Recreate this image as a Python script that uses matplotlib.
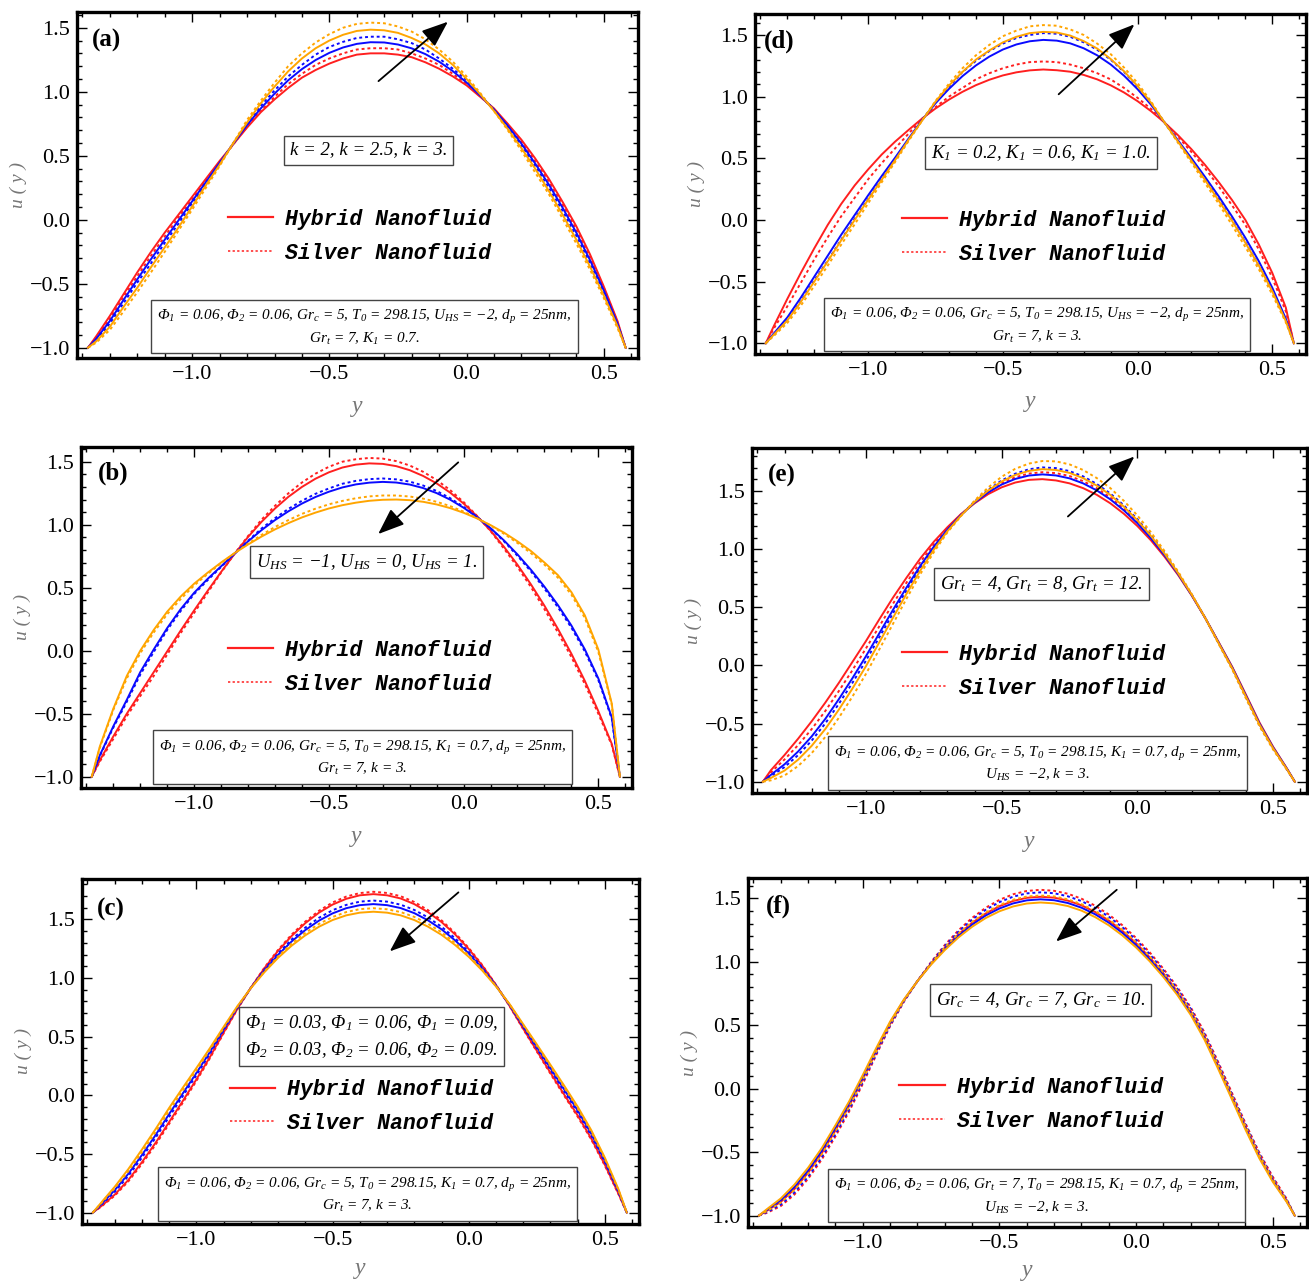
import matplotlib
matplotlib.use('Agg')
import matplotlib.pyplot as plt
from matplotlib.lines import Line2D
from matplotlib.ticker import MultipleLocator, FuncFormatter

plt.rcParams['font.family'] = ['Liberation Serif', 'DejaVu Serif']
plt.rcParams['mathtext.fontset'] = 'custom'
plt.rcParams['mathtext.rm'] = 'Liberation Serif:italic'
plt.rcParams['mathtext.it'] = 'Liberation Serif:italic'
plt.rcParams['mathtext.bf'] = 'Liberation Serif:bold'

# ---------------- data ----------------
y_pts = [-1.38, -1.35, -1.30, -1.25, -1.20, -1.15, -1.10, -1.05, -1.00, -0.95, -0.90,
         -0.85, -0.80, -0.75, -0.70, -0.65, -0.60, -0.55, -0.50, -0.45, -0.40,
         -0.35, -0.30, -0.25, -0.20, -0.15, -0.10, -0.05, 0.00, 0.05, 0.10,
         0.15, 0.20, 0.25, 0.30, 0.35, 0.40, 0.45, 0.50, 0.55, 0.58]

# (a) k = 2 (red), 2.5 (blue), 3 (orange)
a_red_hyb = [-1.00, -0.91, -0.75, -0.58, -0.41, -0.25, -0.10, 0.04, 0.18, 0.32, 0.46, 0.59, 0.72, 0.84, 0.94, 1.03, 1.11, 1.17, 1.22, 1.26, 1.29,
             1.30, 1.30, 1.29, 1.27, 1.23, 1.18, 1.12, 1.05, 0.96, 0.87, 0.75, 0.625, 0.48, 0.32, 0.14, -0.05, -0.27, -0.52, -0.79, -1.00]
a_red_sil = [-1.00, -0.92, -0.77, -0.60, -0.44, -0.28, -0.13, 0.02, 0.16, 0.31, 0.45, 0.59, 0.73, 0.85, 0.96, 1.06, 1.14, 1.21, 1.26, 1.30, 1.33,
             1.34, 1.34, 1.33, 1.30, 1.26, 1.21, 1.14, 1.06, 0.965, 0.86, 0.745, 0.61, 0.46, 0.30, 0.12, -0.075, -0.29, -0.53, -0.80, -1.00]
a_blu_hyb = [-1.00, -0.93, -0.79, -0.625, -0.465, -0.307, -0.155, -0.005, 0.145, 0.295, 0.445, 0.595, 0.74, 0.87, 0.985, 1.09, 1.177, 1.248, 1.304, 1.346, 1.374,
             1.387, 1.385, 1.369, 1.339, 1.294, 1.235, 1.161, 1.072, 0.97, 0.86, 0.735, 0.595, 0.44, 0.275, 0.095, -0.10, -0.315, -0.55, -0.81, -1.00]
a_blu_sil = [-1.00, -0.94, -0.81, -0.65, -0.49, -0.34, -0.18, -0.03, 0.13, 0.28, 0.44, 0.60, 0.75, 0.89, 1.01, 1.12, 1.21, 1.29, 1.35, 1.39, 1.42,
             1.43, 1.43, 1.41, 1.38, 1.33, 1.26, 1.18, 1.09, 0.975, 0.86, 0.725, 0.58, 0.42, 0.25, 0.07, -0.125, -0.34, -0.57, -0.82, -1.00]
a_org_hyb = [-1.00, -0.95, -0.835, -0.68, -0.53, -0.37, -0.215, -0.06, 0.105, 0.27, 0.43, 0.60, 0.76, 0.91, 1.04, 1.16, 1.26, 1.34, 1.40, 1.445, 1.475,
             1.485, 1.48, 1.46, 1.42, 1.37, 1.30, 1.21, 1.10, 0.98, 0.85, 0.71, 0.56, 0.40, 0.225, 0.04, -0.155, -0.365, -0.59, -0.83, -1.00]
a_org_sil = [-1.00, -0.96, -0.86, -0.715, -0.565, -0.41, -0.25, -0.085, 0.08, 0.25, 0.42, 0.60, 0.78, 0.93, 1.07, 1.20, 1.30, 1.385, 1.45, 1.50, 1.53,
             1.54, 1.535, 1.51, 1.47, 1.41, 1.33, 1.235, 1.12, 0.99, 0.85, 0.70, 0.54, 0.37, 0.20, 0.01, -0.185, -0.39, -0.61, -0.845, -1.00]

# (d) K1 = 0.2, 0.6, 1.0
d_red_hyb = [-1.00, -0.86, -0.64, -0.43, -0.23, -0.04, 0.13, 0.28, 0.41, 0.53, 0.635, 0.73, 0.822, 0.904, 0.976, 1.039, 1.093, 1.137, 1.172, 1.197, 1.213,
             1.22, 1.214, 1.202, 1.176, 1.14, 1.092, 1.033, 0.963, 0.882, 0.79, 0.687, 0.573, 0.447, 0.31, 0.163, 0.00, -0.20, -0.43, -0.71, -1.00]
d_red_sil = [-1.00, -0.88, -0.70, -0.51, -0.32, -0.14, 0.03, 0.18, 0.33, 0.46, 0.58, 0.70, 0.82, 0.915, 1.00, 1.07, 1.14, 1.19, 1.23, 1.26, 1.28,
             1.285, 1.28, 1.26, 1.23, 1.19, 1.14, 1.07, 0.99, 0.90, 0.79, 0.675, 0.55, 0.42, 0.275, 0.12, -0.04, -0.24, -0.47, -0.74, -1.00]
d_blu_hyb = [-1.00, -0.92, -0.79, -0.63, -0.46, -0.29, -0.12, 0.04, 0.20, 0.355, 0.505, 0.66, 0.81, 0.946, 1.063, 1.166, 1.253, 1.325, 1.382, 1.423, 1.449,
             1.46, 1.454, 1.432, 1.392, 1.335, 1.261, 1.169, 1.06, 0.934, 0.79, 0.645, 0.50, 0.35, 0.195, 0.03, -0.145, -0.335, -0.55, -0.80, -1.00]
d_blu_sil = [-1.00, -0.93, -0.81, -0.66, -0.49, -0.33, -0.16, 0.01, 0.17, 0.33, 0.49, 0.65, 0.81, 0.955, 1.08, 1.20, 1.29, 1.37, 1.43, 1.475, 1.50,
             1.515, 1.51, 1.485, 1.44, 1.38, 1.30, 1.20, 1.08, 0.945, 0.79, 0.635, 0.48, 0.33, 0.17, 0.00, -0.18, -0.37, -0.575, -0.815, -1.00]
d_org_hyb = [-1.00, -0.93, -0.815, -0.665, -0.50, -0.335, -0.165, 0.00, 0.165, 0.325, 0.485, 0.65, 0.805, 0.96, 1.09, 1.20, 1.30, 1.375, 1.44, 1.485, 1.515,
             1.525, 1.52, 1.495, 1.45, 1.39, 1.305, 1.205, 1.085, 0.95, 0.79, 0.635, 0.48, 0.325, 0.16, -0.005, -0.185, -0.37, -0.58, -0.82, -1.00]
d_org_sil = [-1.00, -0.94, -0.835, -0.695, -0.535, -0.37, -0.20, -0.035, 0.135, 0.305, 0.47, 0.64, 0.805, 0.965, 1.105, 1.23, 1.335, 1.42, 1.49, 1.535, 1.57,
             1.58, 1.575, 1.545, 1.50, 1.43, 1.345, 1.235, 1.11, 0.96, 0.79, 0.625, 0.465, 0.30, 0.135, -0.04, -0.22, -0.40, -0.605, -0.83, -1.00]

# (b) U_HS = -1, 0, 1
b_red_hyb = [-1.00, -0.87, -0.68, -0.50, -0.335, -0.17, -0.005, 0.16, 0.32, 0.475, 0.625, 0.769, 0.903, 1.023, 1.129, 1.222, 1.30, 1.365, 1.416, 1.454, 1.477,
             1.487, 1.483, 1.465, 1.433, 1.387, 1.328, 1.255, 1.168, 1.067, 0.953, 0.824, 0.682, 0.526, 0.357, 0.173, -0.024, -0.24, -0.48, -0.74, -1.00]
b_red_sil = [-1.00, -0.88, -0.70, -0.52, -0.36, -0.20, -0.03, 0.14, 0.30, 0.46, 0.62, 0.77, 0.91, 1.04, 1.15, 1.25, 1.335, 1.405, 1.46, 1.50, 1.52,
             1.53, 1.525, 1.505, 1.47, 1.42, 1.355, 1.275, 1.18, 1.07, 0.95, 0.81, 0.665, 0.505, 0.33, 0.145, -0.05, -0.265, -0.50, -0.75, -1.00]
b_blu_hyb = [-1.00, -0.83, -0.60, -0.39, -0.17, 0.01, 0.18, 0.33, 0.46, 0.57, 0.67, 0.77, 0.868, 0.957, 1.037, 1.107, 1.168, 1.22, 1.262, 1.296, 1.32,
             1.334, 1.34, 1.335, 1.319, 1.291, 1.251, 1.199, 1.135, 1.06, 0.973, 0.875, 0.764, 0.642, 0.508, 0.362, 0.20, 0.01, -0.22, -0.53, -1.00]
b_blu_sil = [-1.00, -0.835, -0.61, -0.405, -0.19, -0.01, 0.165, 0.315, 0.45, 0.56, 0.665, 0.77, 0.873, 0.97, 1.052, 1.126, 1.19, 1.245, 1.288, 1.325, 1.348,
             1.362, 1.367, 1.36, 1.342, 1.311, 1.268, 1.211, 1.142, 1.062, 0.97, 0.868, 0.753, 0.629, 0.493, 0.345, 0.183, -0.006, -0.233, -0.54, -1.00]
b_org_hyb = [-1.00, -0.76, -0.46, -0.20, 0.00, 0.165, 0.31, 0.43, 0.532, 0.619, 0.70, 0.775, 0.843, 0.906, 0.963, 1.013, 1.058, 1.096, 1.129, 1.155, 1.175,
             1.19, 1.198, 1.20, 1.195, 1.182, 1.161, 1.132, 1.095, 1.05, 0.997, 0.937, 0.868, 0.791, 0.70, 0.60, 0.465, 0.28, 0.01, -0.42, -1.00]
b_org_sil = [-1.00, -0.77, -0.47, -0.22, -0.02, 0.145, 0.29, 0.41, 0.518, 0.609, 0.695, 0.774, 0.85, 0.919, 0.982, 1.037, 1.086, 1.127, 1.162, 1.189, 1.21,
             1.225, 1.232, 1.232, 1.224, 1.207, 1.182, 1.148, 1.104, 1.052, 0.994, 0.928, 0.855, 0.774, 0.683, 0.58, 0.445, 0.26, -0.01, -0.43, -1.00]

# (e) Gr_t = 4, 8, 12
e_red_hyb = [-1.00, -0.90, -0.77, -0.63, -0.48, -0.32, -0.15, 0.03, 0.21, 0.40, 0.585, 0.757, 0.92, 1.064, 1.189, 1.302, 1.394, 1.473, 1.532, 1.573, 1.596,
             1.602, 1.591, 1.566, 1.525, 1.468, 1.395, 1.305, 1.199, 1.076, 0.935, 0.778, 0.602, 0.408, 0.198, -0.014, -0.251, -0.491, -0.699, -0.882, -1.00]
e_red_sil = [-1.00, -0.919, -0.808, -0.685, -0.547, -0.392, -0.22, -0.041, 0.147, 0.34, 0.533, 0.715, 0.889, 1.043, 1.179, 1.298, 1.403, 1.495, 1.567, 1.618, 1.65,
             1.662, 1.654, 1.629, 1.585, 1.524, 1.445, 1.348, 1.234, 1.102, 0.954, 0.79, 0.607, 0.408, 0.192, -0.023, -0.264, -0.504, -0.708, -0.887, -1.00]
e_blu_hyb = [-1.00, -0.94, -0.85, -0.74, -0.61, -0.46, -0.29, -0.11, 0.08, 0.28, 0.48, 0.673, 0.857, 1.022, 1.168, 1.294, 1.40, 1.488, 1.556, 1.604, 1.633,
             1.643, 1.634, 1.609, 1.566, 1.506, 1.429, 1.334, 1.223, 1.094, 0.948, 0.786, 0.605, 0.408, 0.194, -0.02, -0.26, -0.50, -0.705, -0.885, -1.00]
e_blu_sil = [-1.00, -0.952, -0.874, -0.771, -0.646, -0.499, -0.33, -0.15, 0.042, 0.246, 0.45, 0.649, 0.839, 1.01, 1.162, 1.292, 1.409, 1.51, 1.591, 1.649, 1.687,
             1.703, 1.697, 1.671, 1.626, 1.561, 1.479, 1.377, 1.258, 1.12, 0.967, 0.797, 0.61, 0.408, 0.188, -0.029, -0.273, -0.513, -0.714, -0.89, -1.00]
e_org_hyb = [-1.00, -0.967, -0.904, -0.81, -0.691, -0.547, -0.38, -0.199, -0.006, 0.203, 0.412, 0.619, 0.816, 0.995, 1.154, 1.289, 1.407, 1.504, 1.582, 1.638, 1.673,
             1.688, 1.681, 1.656, 1.611, 1.547, 1.467, 1.366, 1.249, 1.114, 0.962, 0.794, 0.609, 0.408, 0.189, -0.027, -0.269, -0.509, -0.712, -0.889, -1.00]
e_org_sil = [-1.00, -0.988, -0.946, -0.865, -0.754, -0.615, -0.45, -0.268, -0.072, 0.142, 0.36, 0.577, 0.785, 0.974, 1.144, 1.284, 1.418, 1.53, 1.623, 1.691, 1.736,
             1.758, 1.755, 1.729, 1.681, 1.612, 1.526, 1.416, 1.29, 1.145, 0.984, 0.808, 0.615, 0.408, 0.182, -0.038, -0.284, -0.524, -0.723, -0.895, -1.00]

# (c) Phi1 = Phi2 = 0.03, 0.06, 0.09
c_red_hyb = [-1.00, -0.947, -0.848, -0.723, -0.571, -0.406, -0.228, -0.049, 0.135, 0.327, 0.535, 0.735, 0.917, 1.084, 1.232, 1.359, 1.468, 1.557, 1.626, 1.675, 1.705,
             1.715, 1.705, 1.678, 1.63, 1.562, 1.477, 1.371, 1.247, 1.104, 0.94, 0.761, 0.568, 0.379, 0.192, 0.007, -0.173, -0.37, -0.594, -0.841, -1.00]
c_red_sil = [-1.00, -0.951, -0.857, -0.735, -0.586, -0.422, -0.244, -0.064, 0.122, 0.317, 0.528, 0.732, 0.917, 1.089, 1.24, 1.371, 1.481, 1.573, 1.644, 1.694, 1.724,
             1.735, 1.725, 1.697, 1.648, 1.579, 1.491, 1.383, 1.256, 1.109, 0.942, 0.759, 0.563, 0.372, 0.183, -0.003, -0.183, -0.379, -0.602, -0.846, -1.00]
c_blu_hyb = [-1.00, -0.93, -0.81, -0.67, -0.51, -0.34, -0.16, 0.015, 0.19, 0.37, 0.562, 0.748, 0.915, 1.065, 1.198, 1.312, 1.409, 1.489, 1.551, 1.595, 1.621,
             1.63, 1.621, 1.596, 1.553, 1.492, 1.415, 1.32, 1.209, 1.08, 0.933, 0.77, 0.589, 0.41, 0.23, 0.05, -0.13, -0.33, -0.56, -0.82, -1.00]
c_blu_sil = [-1.00, -0.936, -0.824, -0.689, -0.532, -0.363, -0.184, -0.008, 0.171, 0.355, 0.552, 0.744, 0.916, 1.072, 1.21, 1.329, 1.43, 1.513, 1.578, 1.623, 1.651,
             1.66, 1.651, 1.625, 1.58, 1.517, 1.437, 1.338, 1.223, 1.088, 0.936, 0.767, 0.582, 0.399, 0.217, 0.035, -0.145, -0.344, -0.572, -0.828, -1.00]
c_org_hyb = [-1.00, -0.917, -0.781, -0.63, -0.463, -0.289, -0.108, 0.064, 0.232, 0.403, 0.583, 0.758, 0.914, 1.05, 1.172, 1.276, 1.364, 1.437, 1.494, 1.534, 1.557,
             1.565, 1.557, 1.534, 1.494, 1.438, 1.368, 1.281, 1.18, 1.062, 0.928, 0.777, 0.605, 0.433, 0.259, 0.083, -0.098, -0.299, -0.534, -0.804, -1.00]
c_org_sil = [-1.00, -0.923, -0.794, -0.648, -0.485, -0.313, -0.132, 0.041, 0.213, 0.388, 0.573, 0.753, 0.914, 1.057, 1.184, 1.293, 1.385, 1.461, 1.52, 1.562, 1.587,
             1.595, 1.586, 1.562, 1.521, 1.463, 1.39, 1.299, 1.193, 1.07, 0.93, 0.774, 0.598, 0.423, 0.246, 0.068, -0.113, -0.314, -0.546, -0.811, -1.00]

# (f) Gr_c = 4, 7, 10
f_red_hyb = [-1.00, -0.961, -0.892, -0.791, -0.662, -0.508, -0.328, -0.136, 0.076, 0.299, 0.513, 0.693, 0.848, 0.987, 1.11, 1.217, 1.307, 1.381, 1.438, 1.479, 1.504,
             1.512, 1.505, 1.482, 1.445, 1.392, 1.325, 1.243, 1.146, 1.034, 0.908, 0.767, 0.607, 0.411, 0.181, -0.06, -0.30, -0.526, -0.717, -0.88, -1.00]
f_red_sil = [-1.00, -0.978, -0.925, -0.834, -0.71, -0.558, -0.376, -0.18, 0.038, 0.269, 0.493, 0.684, 0.848, 0.998, 1.132, 1.248, 1.346, 1.426, 1.488, 1.532, 1.558,
             1.567, 1.559, 1.536, 1.497, 1.442, 1.372, 1.287, 1.187, 1.073, 0.944, 0.802, 0.64, 0.443, 0.211, -0.031, -0.273, -0.501, -0.695, -0.866, -1.00]
f_blu_hyb = [-1.00, -0.955, -0.88, -0.775, -0.645, -0.49, -0.31, -0.12, 0.09, 0.31, 0.52, 0.697, 0.848, 0.983, 1.102, 1.206, 1.293, 1.365, 1.42, 1.46, 1.484,
             1.492, 1.485, 1.463, 1.426, 1.374, 1.308, 1.227, 1.131, 1.02, 0.895, 0.755, 0.595, 0.40, 0.17, -0.07, -0.31, -0.535, -0.725, -0.885, -1.00]
f_blu_sil = [-1.00, -0.972, -0.913, -0.818, -0.693, -0.54, -0.358, -0.164, 0.052, 0.28, 0.50, 0.687, 0.848, 0.994, 1.124, 1.237, 1.332, 1.41, 1.47, 1.513, 1.539,
             1.547, 1.54, 1.516, 1.478, 1.424, 1.355, 1.271, 1.172, 1.059, 0.931, 0.789, 0.628, 0.431, 0.20, -0.041, -0.283, -0.51, -0.703, -0.871, -1.00]
f_org_hyb = [-1.00, -0.948, -0.865, -0.756, -0.623, -0.468, -0.288, -0.10, 0.108, 0.324, 0.529, 0.702, 0.848, 0.978, 1.092, 1.192, 1.276, 1.345, 1.398, 1.436, 1.459,
             1.467, 1.46, 1.439, 1.403, 1.352, 1.287, 1.207, 1.112, 1.003, 0.879, 0.74, 0.58, 0.386, 0.156, -0.083, -0.323, -0.547, -0.735, -0.891, -1.00]
f_org_sil = [-1.00, -0.964, -0.898, -0.798, -0.671, -0.517, -0.336, -0.144, 0.069, 0.294, 0.509, 0.692, 0.848, 0.989, 1.114, 1.223, 1.314, 1.389, 1.447, 1.489, 1.514,
             1.522, 1.515, 1.492, 1.454, 1.401, 1.334, 1.251, 1.154, 1.041, 0.915, 0.774, 0.613, 0.417, 0.187, -0.054, -0.295, -0.521, -0.713, -0.878, -1.00]

legend_labels = ['Hybrid Nanofluid', 'Silver Nanofluid']

param_texts = {
    'a': 'k = 2, k = 2.5, k = 3.',
    'd': 'K$_1$ = 0.2, K$_1$ = 0.6, K$_1$ = 1.0.',
    'b': 'U$_{HS}$ = \u22121, U$_{HS}$ = 0, U$_{HS}$ = 1.',
    'e': 'Gr$_t$ = 4, Gr$_t$ = 8, Gr$_t$ = 12.',
    'c': '\u03a6$_1$ = 0.03, \u03a6$_1$ = 0.06, \u03a6$_1$ = 0.09,\n\u03a6$_2$ = 0.03, \u03a6$_2$ = 0.06, \u03a6$_2$ = 0.09.',
    'f': 'Gr$_c$ = 4, Gr$_c$ = 7, Gr$_c$ = 10.',
}
fixed_texts = {
    'a': '\u03a6$_1$ = 0.06, \u03a6$_2$ = 0.06, Gr$_c$ = 5, T$_0$ = 298.15, U$_{HS}$ = \u22122, d$_p$ = 25nm,\nGr$_t$ = 7, K$_1$ = 0.7.',
    'd': '\u03a6$_1$ = 0.06, \u03a6$_2$ = 0.06, Gr$_c$ = 5, T$_0$ = 298.15, U$_{HS}$ = \u22122, d$_p$ = 25nm,\nGr$_t$ = 7, k = 3.',
    'b': '\u03a6$_1$ = 0.06, \u03a6$_2$ = 0.06, Gr$_c$ = 5, T$_0$ = 298.15, K$_1$ = 0.7, d$_p$ = 25nm,\nGr$_t$ = 7, k = 3.',
    'e': '\u03a6$_1$ = 0.06, \u03a6$_2$ = 0.06, Gr$_c$ = 5, T$_0$ = 298.15, K$_1$ = 0.7, d$_p$ = 25nm,\nU$_{HS}$ = \u22122, k = 3.',
    'c': '\u03a6$_1$ = 0.06, \u03a6$_2$ = 0.06, Gr$_c$ = 5, T$_0$ = 298.15, K$_1$ = 0.7, d$_p$ = 25nm,\nGr$_t$ = 7, k = 3.',
    'f': '\u03a6$_1$ = 0.06, \u03a6$_2$ = 0.06, Gr$_t$ = 7, T$_0$ = 298.15, K$_1$ = 0.7, d$_p$ = 25nm,\nU$_{HS}$ = \u22122, k = 3.',
}

RED = '#ff1f1f'
BLUE = '#0a0aff'
ORANGE = '#ffa500'

W, H = 1309, 1282

def rect(l, r, t, b):
    return [l / W, 1 - b / H, (r - l) / W, (b - t) / H]

layout = {
    'a': dict(r=rect(77, 638, 12, 358), ylim=(-1.08, 1.623), lab=(0.026, 0.919), pbox=(0.520, 0.601),
              leg=(0.269, 0.431), fbox=(0.512, 0.087), arr=((-0.321, 1.083), (-0.068, 1.547)), xl=-0.11,
              curves=[a_red_hyb, a_red_sil, a_blu_hyb, a_blu_sil, a_org_hyb, a_org_sil]),
    'd': dict(r=rect(755, 1306, 14, 354), ylim=(-1.087, 1.67), lab=(0.016, 0.92), pbox=(0.519, 0.591),
              leg=(0.266, 0.424), fbox=(0.512, 0.085), arr=((-0.293, 1.019), (-0.012, 1.586)), xl=-0.11,
              curves=[d_red_hyb, d_red_sil, d_blu_hyb, d_blu_sil, d_org_hyb, d_org_sil]),
    'b': dict(r=rect(81, 632, 447, 788), ylim=(-1.09, 1.617), lab=(0.031, 0.924), pbox=(0.518, 0.663),
              leg=(0.267, 0.434), fbox=(0.511, 0.088), arr=((-0.02, 1.495), (-0.317, 0.926)), xl=-0.11,
              curves=[b_red_hyb, b_red_sil, b_blu_hyb, b_blu_sil, b_org_hyb, b_org_sil]),
    'e': dict(r=rect(752, 1307, 448, 793), ylim=(-1.097, 1.87), lab=(0.028, 0.919), pbox=(0.522, 0.606),
              leg=(0.27, 0.432), fbox=(0.515, 0.084), arr=((-0.256, 1.281), (-0.011, 1.797)), xl=-0.11,
              curves=[e_red_hyb, e_red_sil, e_blu_hyb, e_blu_sil, e_org_hyb, e_org_sil]),
    'c': dict(r=rect(82, 639, 879, 1224), ylim=(-1.098, 1.844), lab=(0.026, 0.913), pbox=(0.519, 0.543),
              leg=(0.266, 0.42), fbox=(0.512, 0.084), arr=((-0.038, 1.73), (-0.29, 1.227)), xl=-0.098,
              curves=[c_red_hyb, c_red_sil, c_blu_hyb, c_blu_sil, c_org_hyb, c_org_sil]),
    'f': dict(r=rect(748, 1307, 878, 1227), ylim=(-1.09, 1.66), lab=(0.032, 0.92), pbox=(0.524, 0.65),
              leg=(0.271, 0.43), fbox=(0.516, 0.087), arr=((-0.071, 1.567), (-0.293, 1.16)), xl=-0.094,
              curves=[f_red_hyb, f_red_sil, f_blu_hyb, f_blu_sil, f_org_hyb, f_org_sil]),
}

DOT = (0, (1.5, 1.5))
styles = [(RED, '-'), (RED, DOT), (BLUE, '-'), (BLUE, DOT), (ORANGE, '-'), (ORANGE, DOT)]

fmt = FuncFormatter(lambda v, p: ('%.1f' % v).replace('-', '\u2212'))

fig = plt.figure(figsize=(W / 100, H / 100), dpi=100)
fig.patch.set_facecolor('white')

for key in ['a', 'd', 'b', 'e', 'c', 'f']:
    L = layout[key]
    ax = fig.add_axes(L['r'])
    for vals, (col, ls) in zip(L['curves'], styles):
        ax.plot(y_pts, vals, color=col, linestyle=ls, lw=1.4)
    ax.set_xlim(-1.42, 0.625)
    ax.set_ylim(*L['ylim'])
    ax.xaxis.set_major_locator(MultipleLocator(0.5))
    ax.xaxis.set_minor_locator(MultipleLocator(0.1))
    ax.yaxis.set_major_locator(MultipleLocator(0.5))
    ax.yaxis.set_minor_locator(MultipleLocator(0.1))
    ax.xaxis.set_major_formatter(fmt)
    ax.yaxis.set_major_formatter(fmt)
    ax.tick_params(which='both', direction='in', top=True, right=True, width=1.0, colors='black')
    ax.tick_params(which='major', length=7, labelsize=16, pad=5)
    ax.tick_params(which='minor', length=3.5)
    for sp in ax.spines.values():
        sp.set_linewidth(2.4)
    ax.set_xlabel('y', fontsize=17, fontstyle='italic', color='#777777')
    ax.xaxis.set_label_coords(0.5, L['xl'])
    ax.set_ylabel('u ( y )', fontsize=14, fontstyle='italic', color='#777777')
    ax.yaxis.set_label_coords(-0.09, 0.5)

    ax.text(L['lab'][0], L['lab'][1], '(' + key + ')', transform=ax.transAxes, fontsize=18,
            fontweight='bold', ha='left', va='center')

    ax.text(L['pbox'][0], L['pbox'][1], param_texts[key], transform=ax.transAxes, fontsize=13.5,
            fontstyle='italic', ha='center', va='center', linespacing=1.5,
            bbox=dict(boxstyle='square,pad=0.32', fc='white', ec='#444444', lw=1.0))

    ax.text(L['fbox'][0], L['fbox'][1], fixed_texts[key], transform=ax.transAxes, fontsize=11,
            fontstyle='italic', ha='center', va='center', linespacing=1.4,
            bbox=dict(boxstyle='square,pad=0.4', fc='white', ec='#444444', lw=1.0))

    handles = [Line2D([], [], color=RED, lw=1.6, linestyle='-'),
               Line2D([], [], color=RED, lw=1.1, linestyle=(0, (1.5, 1.5)))]
    ax.legend(handles, legend_labels, loc='upper left', bbox_to_anchor=L['leg'],
              frameon=False, borderpad=0, borderaxespad=0, handlelength=2.1,
              handletextpad=0.55, labelspacing=0.6,
              prop=dict(family='Liberation Mono', weight='bold', style='italic', size=15.5))

    (tx, ty), (hx, hy) = L['arr']
    ax.annotate('', xy=(hx, hy), xytext=(tx, ty),
                arrowprops=dict(arrowstyle='-|>,head_length=0.9,head_width=0.35', color='black',
                                lw=1.3, mutation_scale=18, shrinkA=0, shrinkB=0))

fig.savefig('out.png', dpi=100, facecolor='white')
